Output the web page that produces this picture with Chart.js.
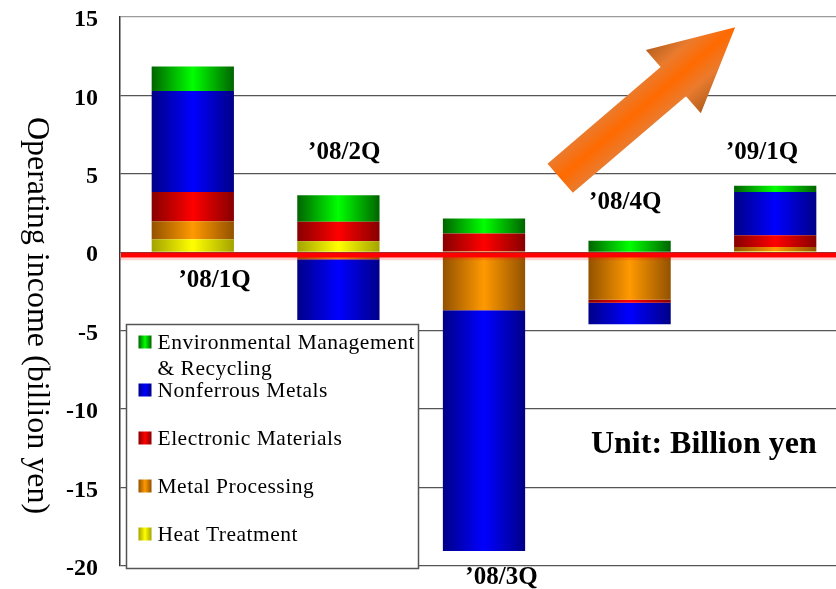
<!DOCTYPE html>
<html><head><meta charset="utf-8">
<script src="https://cdn.jsdelivr.net/npm/chart.js@4/dist/chart.umd.min.js"></script>
<style>
html,body{margin:0;padding:0;overflow:hidden;background:#fff;width:836px;height:589px}
#wrap{position:absolute;left:0;top:0;width:848px;height:589px}
</style>
</head><body><div id="wrap"><canvas id="c" width="848" height="589"></canvas></div>
<script>
// ---- data ----
const categories = ["\u201908/1Q", "\u201908/2Q", "\u201908/3Q", "\u201908/4Q", "\u201909/1Q"];
const seriesNames = ["Heat Treatment", "Metal Processing", "Electronic Materials", "Nonferrous Metals", "Environmental Management & Recycling"];
const heatTreatment       = [0.83,  0.70,   0.05,  0.03, 0.06];
const metalProcessing     = [1.15, -0.45,  -3.70, -3.02, 0.28];
const electronicMaterials = [1.87,  1.24,   1.15, -0.20, 0.75];
const nonferrousMetals    = [6.44, -3.86, -15.35, -1.36, 2.76];
const envRecycling        = [1.55,  1.70,   0.96,  0.70, 0.39];
const yTicks = [15, 10, 5, 0, -5, -10, -15, -20];
const axisTitle = "Operating income (billion yen)";
const unitText = "Unit: Billion yen";

// ---- styles ----
const seriesValues = [heatTreatment, metalProcessing, electronicMaterials, nonferrousMetals, envRecycling];
const shades = [
  {edge: '#a3a300', center: '#ffff00'},
  {edge: '#935200', center: '#ff9900'},
  {edge: '#870000', center: '#ff0000'},
  {edge: '#000088', center: '#0000ff'},
  {edge: '#006400', center: '#00ff00'}
];
const BAR_PCT = 0.565;
const SERIF = "'Liberation Serif', 'Times New Roman', serif";

function hGrad(ctx, x0, x1, edge, center) {
  const g = ctx.createLinearGradient(x0, 0, x1, 0);
  g.addColorStop(0, edge);
  g.addColorStop(0.5, center);
  g.addColorStop(1, edge);
  return g;
}

const datasets = seriesValues.map((vals, i) => ({
  label: seriesNames[i],
  data: vals,
  borderWidth: 0,
  backgroundColor: (c) => {
    const ch = c.chart, xs = ch.scales && ch.scales.x;
    if (!xs || c.dataIndex === undefined || !isFinite(xs.width)) return shades[i].center;
    const cx = xs.getPixelForValue(c.dataIndex);
    const w = xs.width / categories.length * BAR_PCT;
    return hGrad(ch.ctx, cx - w / 2, cx + w / 2, shades[i].edge, shades[i].center);
  }
}));

const decor = {
  id: 'decor',
  afterDatasetsDraw(chart, args, opts) {
    const {ctx, chartArea, scales: {x, y}} = chart;
    const P = (p) => [x.getPixelForValue(p[0]), y.getPixelForValue(p[1])];
    // red zero line
    const y0 = y.getPixelForValue(0);
    ctx.save();
    ctx.strokeStyle = 'rgba(255,0,0,0.18)';
    ctx.lineWidth = 3;
    ctx.beginPath(); ctx.moveTo(chartArea.left, y0 + 6.5); ctx.lineTo(chartArea.right, y0 + 6.5); ctx.stroke();
    ctx.strokeStyle = '#ff0000';
    ctx.lineWidth = 5;
    ctx.beginPath(); ctx.moveTo(chartArea.left + 1, y0 + 2.8); ctx.lineTo(chartArea.right, y0 + 2.8); ctx.stroke();
    // arrow
    const pts = opts.arrow.map(P);
    const tip = pts[0];
    const tb = pts[3], tt = pts[4];
    const tail = [(tb[0] + tt[0]) / 2, (tb[1] + tt[1]) / 2];
    let dx = tip[0] - tail[0], dy = tip[1] - tail[1];
    const L = Math.hypot(dx, dy); dx /= L; dy /= L;
    const nx = -dy, ny = dx;
    const g = ctx.createLinearGradient(tail[0] - nx * 42, tail[1] - ny * 42, tail[0] + nx * 42, tail[1] + ny * 42);
    g.addColorStop(0, '#b5601f');
    g.addColorStop(0.27, '#ea7b2e');
    g.addColorStop(0.5, '#ff6a00');
    g.addColorStop(0.73, '#ea7b2e');
    g.addColorStop(1, '#b5601f');
    ctx.fillStyle = g;
    ctx.beginPath();
    pts.forEach((p, k) => k ? ctx.lineTo(p[0], p[1]) : ctx.moveTo(p[0], p[1]));
    ctx.closePath();
    ctx.fill();
    ctx.restore();
  },
  afterDraw(chart, args, opts) {
    const {ctx, chartArea, scales: {x, y}} = chart;
    ctx.save();
    // category labels
    ctx.fillStyle = '#000';
    ctx.textAlign = 'center';
    ctx.textBaseline = 'middle';
    ctx.font = "bold 25px " + SERIF;
    categories.forEach((lab, i) => {
      const a = opts.labelAnchors[i];
      ctx.fillText(lab, x.getPixelForValue(i + a[0]), y.getPixelForValue(a[1]));
    });
    // unit text
    ctx.font = "bold 32px " + SERIF;
    ctx.fillText(unitText, x.getPixelForValue(opts.unitAt[0]), y.getPixelForValue(opts.unitAt[1]));
    // axis title
    ctx.save();
    ctx.translate(opts.titleX, (chartArea.top + chartArea.bottom) / 2 + opts.titleShift);
    ctx.rotate(Math.PI / 2);
    ctx.font = "32px " + SERIF;
    ctx.fillText(axisTitle, 0, 0);
    ctx.restore();
    // legend box
    const b = opts.legendBox;
    ctx.fillStyle = '#fff';
    ctx.fillRect(b[0], b[1], b[2], b[3]);
    ctx.strokeStyle = '#555';
    ctx.lineWidth = 1.5;
    ctx.strokeRect(b[0], b[1], b[2], b[3]);
    ctx.textAlign = 'left';
    ctx.font = "21.5px " + SERIF;
    try { ctx.letterSpacing = '0.5px'; } catch (e) {}
    const ds = chart.data.datasets.slice().reverse();
    const sh = shades.slice().reverse();
    ds.forEach((d, k) => {
      const cy = b[1] + 17.5 + k * 48;
      const sx = b[0] + 12;
      ctx.fillStyle = hGrad(ctx, sx, sx + 13, sh[k].edge, sh[k].center);
      ctx.fillRect(sx, cy - 6.5, 13, 13);
      ctx.fillStyle = '#000';
      const lines = d.label.includes(' & ') ? [d.label.split(' & ')[0], '& ' + d.label.split(' & ')[1]] : [d.label];
      lines.forEach((ln, j) => ctx.fillText(ln, b[0] + 31, cy + 1 + j * 26));
    });
    ctx.restore();
  }
};

new Chart(document.getElementById('c'), {
  type: 'bar',
  data: {labels: categories, datasets},
  options: {
    responsive: false,
    animation: false,
    events: [],
    layout: {padding: {top: 17, bottom: 23, left: 0, right: 0}},
    datasets: {bar: {categoryPercentage: 1, barPercentage: BAR_PCT}},
    scales: {
      x: {stacked: true, display: false},
      y: {
        stacked: true, min: -20, max: 15,
        afterFit: (s) => { s.width = 120; s.paddingTop = 0; s.paddingBottom = 0; },
        afterBuildTicks: (s) => { s.ticks = yTicks.map(v => ({value: v})); },
        ticks: {
          color: '#000', padding: 22, labelOffset: 3,
          font: {family: SERIF, size: 24, weight: 'bold'},
          callback: (v) => String(v)
        },
        grid: {
          drawTicks: false,
          color: (c) => (c.tick && c.tick.value === 15) ? '#9a9a9a' : '#555',
          lineWidth: 1.3
        },
        border: {display: true, color: '#333', width: 1.5}
      }
    },
    plugins: {
      legend: {display: false},
      tooltip: {enabled: false},
      decor: {
        labelAnchors: [[0.15, -1.77], [0.04, 6.39], [0.12, -20.76], [-0.03, 3.14], [-0.09, 6.39]],
        unitAt: [3.51, -12.29],
        arrow: [[3.725, 14.34], [3.111, 12.90], [3.213, 11.81], [2.436, 5.65], [2.610, 3.79], [3.387, 9.95], [3.489, 8.86]],
        legendBox: [126.5, 324.5, 292, 244],
        titleX: 36,
        titleShift: 24
      }
    }
  },
  plugins: [decor]
});
</script>
</body></html>
